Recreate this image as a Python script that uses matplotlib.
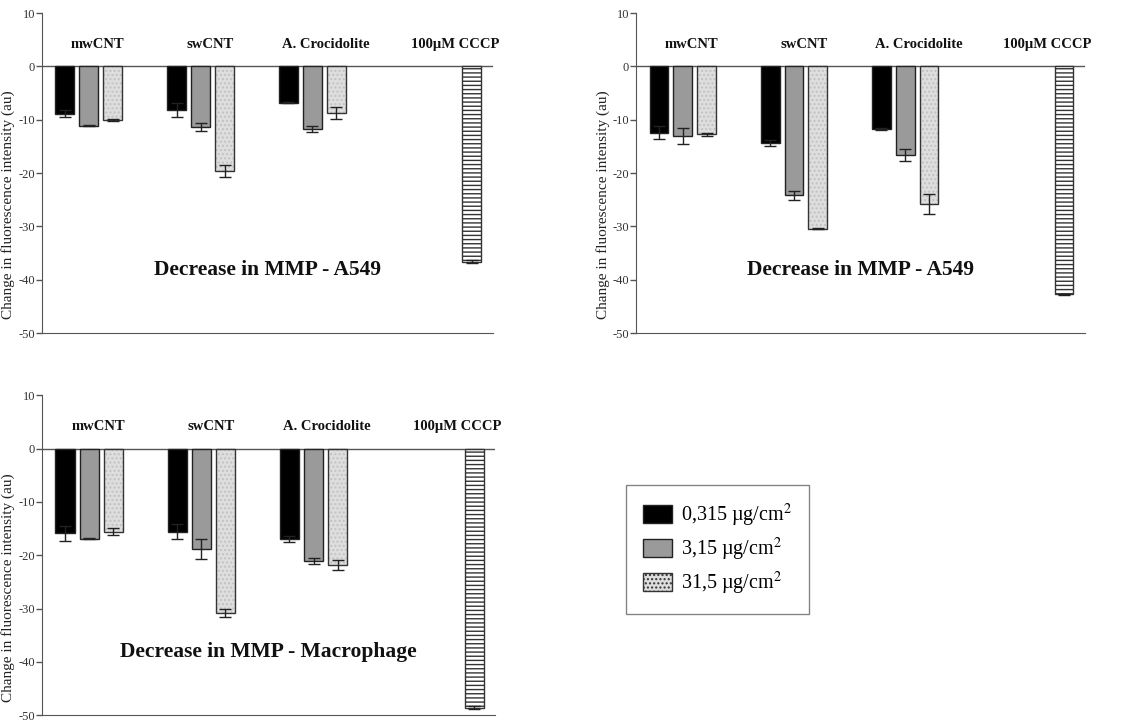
import numpy as np
import matplotlib
matplotlib.use('Agg')
import matplotlib.pyplot as plt
from matplotlib.patches import Patch

plt.rcParams['font.family'] = ['Liberation Serif', 'DejaVu Serif']
plt.rcParams['mathtext.fontset'] = 'stix'
plt.rcParams['axes.unicode_minus'] = False
plt.rcParams['hatch.linewidth'] = 1.0

# datos
groups = ['mwCNT', 'swCNT', 'A. Crocidolite', '100µM CCCP']
doses = ['0,315 µg/cm$^2$', '3,15 µg/cm$^2$', '31,5 µg/cm$^2$']
titles = ['Decrease in MMP - A549', 'Decrease in MMP - A549',
          'Decrease in MMP - Macrophage']

# panel 1 (A549)
p1_means = [[-8.9, -8.1, -6.85], [-11.15, -11.35, -11.75], [-10.05, -19.6, -8.75]]
p1_err = [[0.65, 1.3, 0.1], [0.1, 0.7, 0.5], [0.2, 1.2, 1.2]]
p1_cccp, p1_cccp_err = -36.6, 0.3

# panel 2 (A549)
p2_means = [[-12.4, -14.4, -11.75], [-13.0, -24.2, -16.6], [-12.75, -30.4, -25.8]]
p2_err = [[1.3, 0.6, 0.2], [1.5, 0.9, 1.15], [0.3, 0.1, 1.85]]
p2_cccp, p2_cccp_err = -42.75, 0.1

# panel 3 (Macrophage)
p3_means = [[-15.9, -15.6, -16.9], [-16.9, -18.75, -21.1], [-15.6, -30.8, -21.8]]
p3_err = [[1.4, 1.4, 0.6], [0.1, 1.85, 0.6], [0.65, 0.75, 1.0]]
p3_cccp, p3_cccp_err = -48.6, 0.3

colors = ['black', '#9a9a9a', '#dedede']
width = 0.17
offsets = [-0.215, 0.0, 0.215]
cccp_x = 3.43
label_x = [0.08, 1.09, 2.12, 3.28]

fig = plt.figure(figsize=(11.28, 7.24), dpi=100)
rects = [[0.0372, 0.540, 0.400, 0.442],
         [0.564, 0.540, 0.398, 0.442],
         [0.0372, 0.012, 0.402, 0.442]]
panels = [(p1_means, p1_err, p1_cccp, p1_cccp_err),
          (p2_means, p2_err, p2_cccp, p2_cccp_err),
          (p3_means, p3_err, p3_cccp, p3_cccp_err)]

x = np.arange(3)
for rect, (means, errs, cccp, cccp_err), title in zip(rects, panels, titles):
    ax = fig.add_axes(rect)
    for i in range(3):
        xi = x + offsets[i]
        if i == 2:
            # relleno punteado gris claro y borde negro por separado
            ax.bar(xi, means[i], width, color=colors[i], edgecolor='#c2c2c2',
                   hatch='....', linewidth=0, zorder=2)
            ax.bar(xi, means[i], width, fill=False, edgecolor='#333333',
                   linewidth=1.0, zorder=3)
        else:
            ax.bar(xi, means[i], width, color=colors[i], edgecolor='#222222',
                   linewidth=1.0, zorder=3)
        ax.errorbar(xi, means[i], yerr=errs[i], fmt='none', ecolor='#222222',
                    elinewidth=1.0, capsize=4, capthick=1.0, zorder=4)
    ax.bar([cccp_x], [cccp], width, color='white', edgecolor='#333333',
           hatch='----', linewidth=1.0, zorder=3)
    ax.errorbar([cccp_x], [cccp], yerr=[cccp_err], fmt='none', ecolor='#222222',
                elinewidth=1.0, capsize=4, zorder=4)

    ax.axhline(0, color='#555555', linewidth=1.0, zorder=1)
    ax.set_xlim(-0.42, 3.62)
    ax.set_ylim(-50, 10)
    ax.set_yticks(np.arange(-50, 11, 10))
    ax.set_xticks([])
    ax.spines['top'].set_visible(False)
    ax.spines['right'].set_visible(False)
    ax.spines['left'].set_color('#555555')
    ax.spines['bottom'].set_color('#555555')
    ax.tick_params(axis='y', direction='out', length=4, width=1,
                   colors='#555555', labelcolor='#333333', labelsize=9, pad=1)
    ax.set_ylabel('Change in fluorescence intensity (au)', fontsize=11,
                  color='#222222')
    ax.yaxis.set_label_coords(-0.059, 0.40)

    for lx, g in zip(label_x, groups):
        ax.text(lx, 4.1, g, ha='center', va='center', fontsize=10.5,
                fontweight='bold', color='#111111')
    ax.text(1.6, -38.2, title, ha='center', va='center', fontsize=15.5,
            fontweight='bold', color='#111111')

# leyenda
handles = [Patch(facecolor=colors[0], edgecolor='#222222'),
           Patch(facecolor=colors[1], edgecolor='#222222'),
           Patch(facecolor=colors[2], edgecolor='#333333', hatch='....')]
leg = fig.legend(handles, doses, loc='upper left', bbox_to_anchor=(0.555, 0.330),
                 borderaxespad=0, fontsize=14.5, frameon=True, fancybox=False,
                 edgecolor='#666666', handlelength=1.45, handleheight=1.0,
                 borderpad=0.82, labelspacing=0.35, handletextpad=0.45)
leg.get_frame().set_linewidth(1.0)

plt.savefig('out.png', dpi=100)
